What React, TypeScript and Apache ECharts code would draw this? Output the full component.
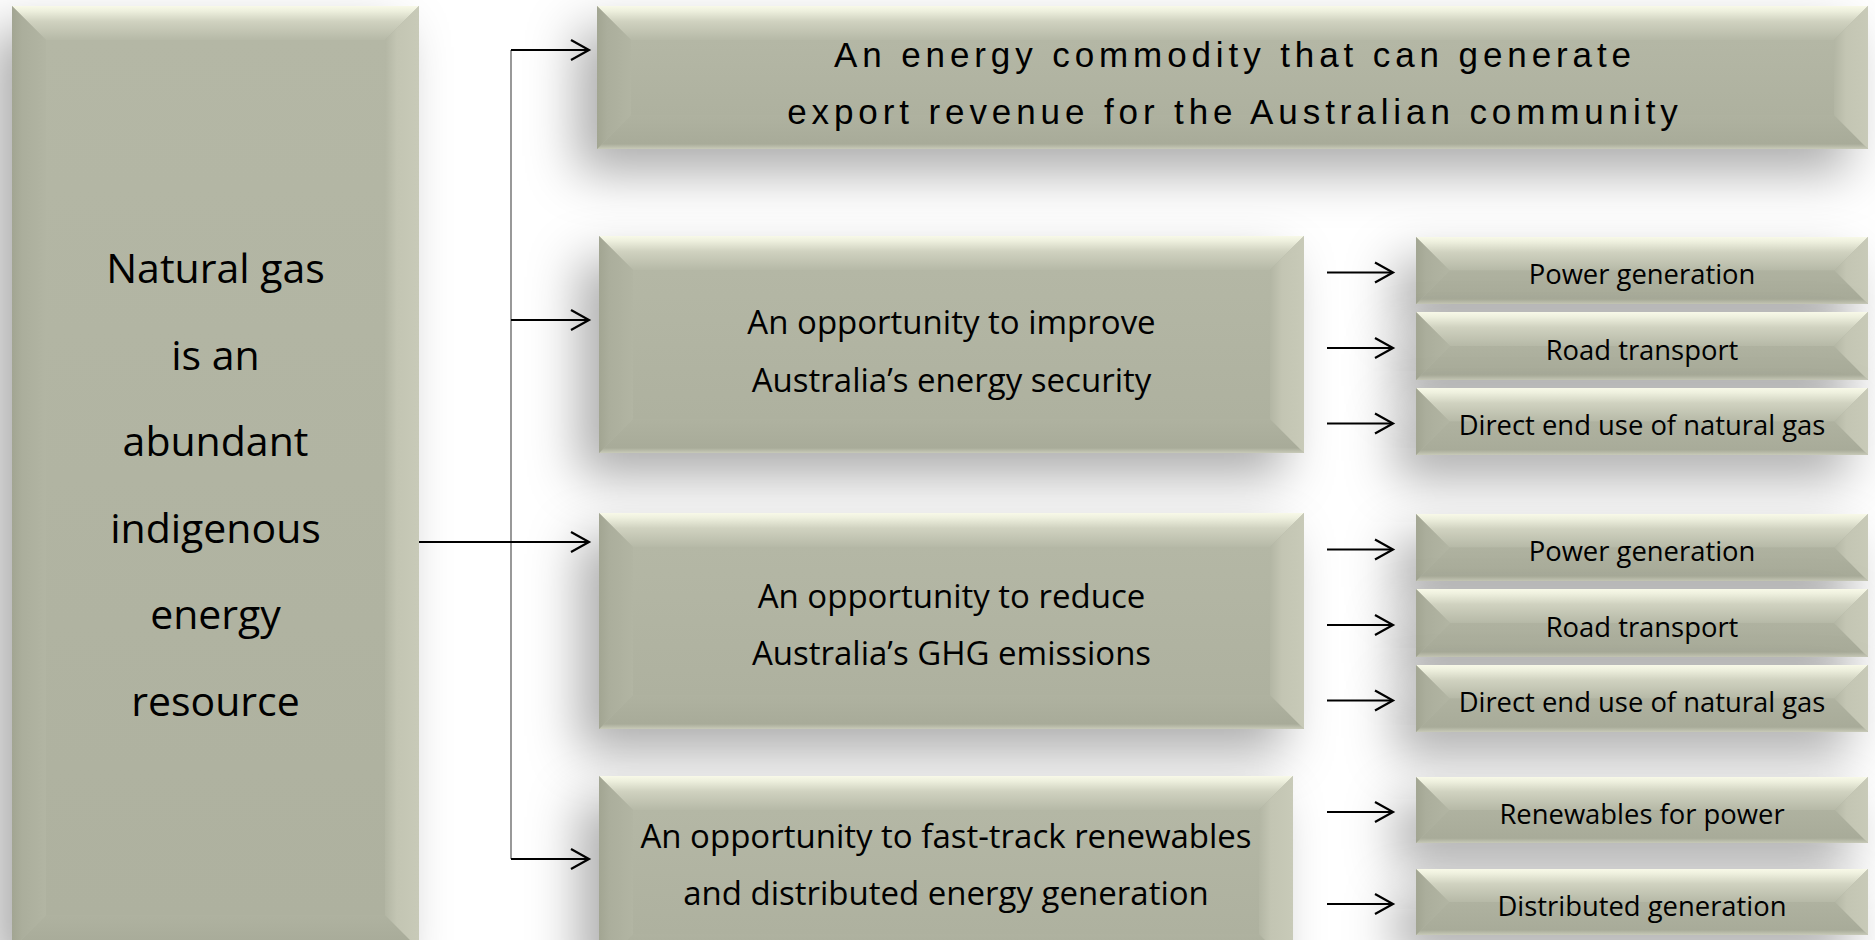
import React, { useEffect, useRef } from "react";
import * as echarts from "echarts";

// ---- texts ----
const leftLines = ["Natural gas", "is an", "abundant", "indigenous", "energy", "resource"];
const topLines = ["An energy commodity that can generate", "export revenue for the Australian community"];
const midLabels = [
  ["An opportunity to improve", "Australia\u2019s energy security"],
  ["An opportunity to reduce", "Australia\u2019s GHG emissions"],
  ["An opportunity to fast-track renewables", "and distributed energy generation"],
];
const subLabels = [
  ["Power generation", "Road transport", "Direct end use of natural gas"],
  ["Power generation", "Road transport", "Direct end use of natural gas"],
  ["Renewables for power", "Distributed generation"],
];

// ---- layout ----
const LEFT_BOX = [12, 6, 419, 949];
const TOP_BOX = [597, 6, 1868, 149];
const MID_BOXES = [
  [599, 236, 1304, 453],
  [599, 513, 1304, 729],
  [599, 776, 1293, 968],
];
const SUB_X = [1416, 1868];
const SUB_ROWS = [
  [[237, 304], [312, 380], [388, 455]],
  [[514, 581], [589, 657], [665, 732]],
  [[777, 843], [869, 935]],
];
const TRUNK_X = 511;
const TRUNK_TIP = 589;
const TRUNK_YS = [50, 320, 859];
const MAIN_Y = 542;
const SUB_ARROW_X = [1327, 1393];

const CAL = "'Open Sans', 'Noto Sans', sans-serif";
const TOP_SPACING = 4.9;

function grad(x2: number, y2: number, stops: [number, string][]) {
  return new echarts.graphic.LinearGradient(0, 0, x2, y2, stops.map(([offset, color]) => ({ offset, color })));
}

function bevelBox(b: number[]) {
  const [x0, y0, x1, y1] = b;
  const w = x1 - x0;
  const h = y1 - y0;
  const d = Math.min(34, h / 2, w / 2);
  const els: any[] = [];
  els.push({
    type: "rect",
    silent: true,
    shape: { x: x0, y: y0, width: w, height: h },
    style: {
      fill: "#b1b4a3",
      shadowBlur: 50,
      shadowOffsetX: -20,
      shadowOffsetY: 24,
      shadowColor: "rgba(0,0,0,0.32)",
    },
  });
  els.push({
    type: "rect",
    silent: true,
    shape: { x: x0 + d, y: y0 + d, width: w - 2 * d, height: Math.max(0, h - 2 * d) },
    style: { fill: grad(0, 1, [[0, "#b4b7a5"], [1, "#aeb19f"]]) },
  });
  // top face
  els.push({
    type: "polygon",
    silent: true,
    shape: { points: [[x0, y0], [x1, y0], [x1 - d, y0 + d], [x0 + d, y0 + d]] },
    style: { fill: grad(0, 1, [[0, "#f8f9e8"], [0.14, "#eef0de"], [0.45, "#d0d2c0"], [1, "#b6b9a7"]]) },
  });
  // bottom face
  els.push({
    type: "polygon",
    silent: true,
    shape: { points: [[x0, y1], [x1, y1], [x1 - d, y1 - d], [x0 + d, y1 - d]] },
    style: { fill: grad(0, 1, [[0, "#afb2a0"], [0.85, "#a8ab99"], [1, "#c8cab8"]]) },
  });
  // left face
  els.push({
    type: "polygon",
    silent: true,
    shape: { points: [[x0, y0], [x0 + d, y0 + d], [x0 + d, y1 - d], [x0, y1]] },
    style: { fill: grad(1, 0, [[0, "#a2a592"], [0.3, "#abae9c"], [1, "#b2b5a3"]]) },
  });
  // right face
  els.push({
    type: "polygon",
    silent: true,
    shape: { points: [[x1, y0], [x1, y1], [x1 - d, y1 - d], [x1 - d, y0 + d]] },
    style: { fill: grad(1, 0, [[0, "#b3b6a4"], [0.35, "#c3c5b3"], [1, "#c8cab8"]]) },
  });
  return els;
}

function textEl(x: number, y: number, text: string, size: number, lh: number, family: string) {
  return {
    type: "text",
    silent: true,
    x,
    y,
    style: {
      text,
      fill: "#000000",
      fontSize: size,
      fontFamily: family,
      lineHeight: lh,
      align: "center",
      verticalAlign: "middle",
      textAlign: "center",
      textVerticalAlign: "middle",
    },
  };
}

function arrow(xa: number, xb: number, y: number) {
  return [
    {
      type: "line",
      silent: true,
      shape: { x1: xa, y1: y, x2: xb - 1, y2: y },
      style: { stroke: "#000", lineWidth: 2.2 },
    },
    {
      type: "polyline",
      silent: true,
      shape: { points: [[xb - 18, y - 10], [xb, y], [xb - 18, y + 10]] },
      style: { stroke: "#000", lineWidth: 2.2, fill: null },
    },
  ];
}

export default function App() {
  const ref = useRef<HTMLDivElement>(null);
  useEffect(() => {
    if (!ref.current) return;
    const chart = echarts.init(ref.current, null, { renderer: "svg" });
    const els: any[] = [];

    els.push({
      type: "line",
      silent: true,
      shape: { x1: TRUNK_X, y1: TRUNK_YS[0], x2: TRUNK_X, y2: TRUNK_YS[TRUNK_YS.length - 1] },
      style: { stroke: "#7f7f7f", lineWidth: 1.6 },
    });

    els.push(...bevelBox(LEFT_BOX));
    els.push(...bevelBox(TOP_BOX));
    MID_BOXES.forEach((b, i) => {
      els.push(...bevelBox(b));
      SUB_ROWS[i].forEach((r) => els.push(...bevelBox([SUB_X[0], r[0], SUB_X[1], r[1]])));
    });

    TRUNK_YS.forEach((y) => els.push(...arrow(TRUNK_X, TRUNK_TIP, y)));
    els.push(...arrow(LEFT_BOX[2], TRUNK_TIP, MAIN_Y));
    SUB_ROWS.forEach((rows) =>
      rows.forEach((r) => els.push(...arrow(SUB_ARROW_X[0], SUB_ARROW_X[1], (r[0] + r[1]) / 2 + 2)))
    );

    els.push(textEl((LEFT_BOX[0] + LEFT_BOX[2]) / 2, 483.5, leftLines.join("\n"), 41, 86.6, CAL));
    els.push(
      textEl((TOP_BOX[0] + TOP_BOX[2]) / 2 + TOP_SPACING / 2, 82.5, topLines.join("\n"), 35, 57, "'Liberation Sans', Arial, sans-serif")
    );
    const midTextY = [350.5, 624, 864];
    MID_BOXES.forEach((b, i) => {
      els.push(textEl((b[0] + b[2]) / 2, midTextY[i], midLabels[i].join("\n"), 33, 57.5, CAL));
      SUB_ROWS[i].forEach((r, j) => {
        els.push(textEl((SUB_X[0] + SUB_X[1]) / 2, (r[0] + r[1]) / 2 + 3, subLabels[i][j], 27.4, 32, CAL));
      });
    });

    chart.setOption({
      animation: false,
      graphic: { elements: els },
    });

    const spacing = () => {
      if (!ref.current) return;
      ref.current.querySelectorAll("text").forEach((t) => {
        const c = (t.textContent || "").trim();
        if (topLines.includes(c)) {
          t.setAttribute("letter-spacing", String(TOP_SPACING));
          (t as any).style.letterSpacing = TOP_SPACING + "px";
        }
      });
    };
    spacing();
    const raf = requestAnimationFrame(spacing);
    const tm = setTimeout(spacing, 200);
    chart.on("finished", spacing);

    return () => {
      cancelAnimationFrame(raf);
      clearTimeout(tm);
      chart.dispose();
    };
  }, []);
  return (
    <div
      ref={ref}
      style={{ position: "absolute", left: 0, top: 0, width: 1875, height: 940, background: "#ffffff" }}
    />
  );
}
